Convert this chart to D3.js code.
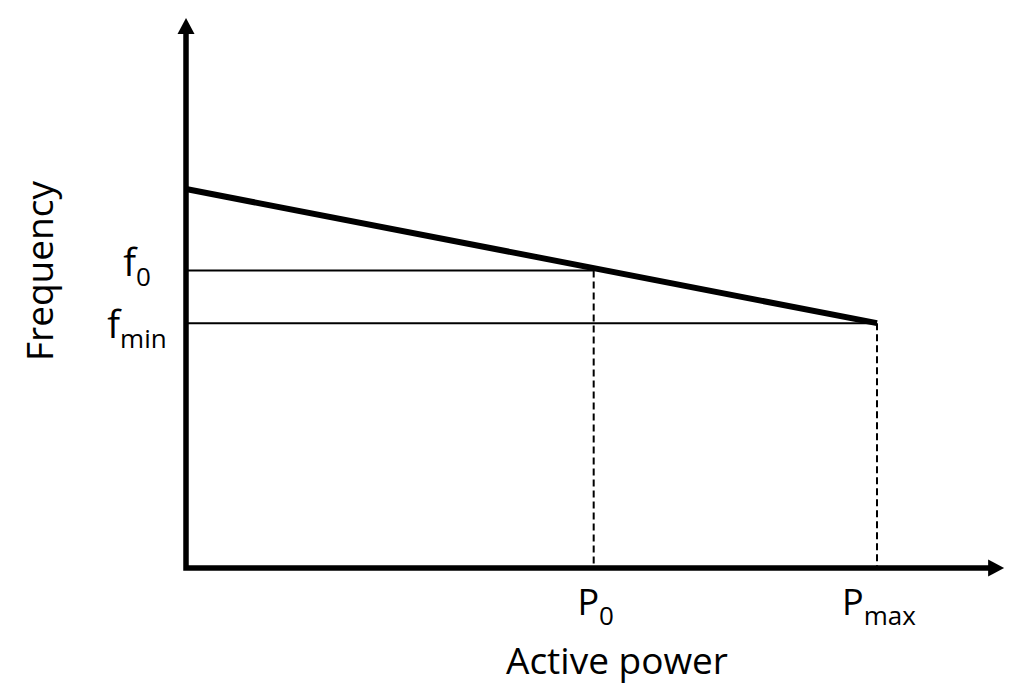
<!DOCTYPE html>
<html>
<head>
<meta charset="utf-8">
<script src="https://cdn.jsdelivr.net/npm/d3@7"></script>
<style>
  html, body { margin: 0; padding: 0; background: #fff; }
  svg { display: block; }
  text { font-family: "Open Sans", "Noto Sans", sans-serif; fill: #000; }
</style>
</head>
<body>
<svg id="chart" width="1024" height="696"></svg>
<script>
// ---- data (normalised units) ----
const droopP = [0, 1];            // active power: no-load, Pmax
const droopF = [1, 0.646];        // frequency at no-load, at Pmax (fmin)
const refPower = [0.59, 1];       // P0, Pmax
const refFreq = [0.785, 0.646];   // f0, fmin
const xTickMain = ["P", "P"];
const xTickSub = ["0", "max"];
const yTickMain = ["f", "f"];
const yTickSub = ["0", "min"];
const xAxisMax = 1.184;
const yAxisMax = 1.451;
const xTitle = "Active power";
const yTitle = "Frequency";

const svg = d3.select("#chart");
const x = d3.scaleLinear().domain([0, 1]).range([186, 877]);
const y = d3.scaleLinear().domain([0, 1]).range([568, 189]);

const arrowLen = 16, arrowHalf = 8.5;

// reference lines (horizontal thin solid)
refFreq.forEach((f, i) => {
  svg.append("line")
    .attr("x1", x(0)).attr("x2", x(refPower[i]))
    .attr("y1", y(f)).attr("y2", y(f))
    .attr("stroke", "#000").attr("stroke-width", 2);
});
// vertical dashed lines
refPower.forEach((p, i) => {
  svg.append("line")
    .attr("x1", x(p)).attr("x2", x(p))
    .attr("y1", y(refFreq[i])).attr("y2", y(0))
    .attr("stroke", "#000").attr("stroke-width", 2)
    .attr("stroke-dasharray", "7,4");
});

// droop line
svg.append("path")
  .datum(droopP.map((p, i) => [p, droopF[i]]))
  .attr("d", d3.line().x(d => x(d[0])).y(d => y(d[1])))
  .attr("fill", "none").attr("stroke", "#000").attr("stroke-width", 6)
  .attr("stroke-linecap", "butt");

// axes
const ox = x(0), oy = y(0);
const xEnd = x(xAxisMax), yEnd = y(yAxisMax);
svg.append("path")
  .attr("d", `M${ox},${yEnd + arrowLen} L${ox},${oy} L${xEnd - arrowLen},${oy}`)
  .attr("fill", "none").attr("stroke", "#000").attr("stroke-width", 5.5)
  .attr("stroke-linejoin", "miter").attr("stroke-linecap", "square");
svg.append("path")
  .attr("d", `M${ox},${yEnd} L${ox - arrowHalf},${yEnd + arrowLen} L${ox + arrowHalf},${yEnd + arrowLen} Z`)
  .attr("fill", "#000");
svg.append("path")
  .attr("d", `M${xEnd},${oy} L${xEnd - arrowLen},${oy - arrowHalf} L${xEnd - arrowLen},${oy + arrowHalf} Z`)
  .attr("fill", "#000");

// x tick labels
refPower.forEach((p, i) => {
  const t = svg.append("text")
    .attr("x", x(p) + 2).attr("y", oy + 47)
    .attr("text-anchor", "middle")
    .attr("font-size", 36);
  t.append("tspan").text(xTickMain[i]);
  t.append("tspan").attr("dy", 10).attr("font-size", 26).text(xTickSub[i]);
});

// y tick labels
const yLabelBase = [y(refFreq[0]) + 6, y(refFreq[1]) + 15];
refFreq.forEach((f, i) => {
  const t = svg.append("text")
    .attr("x", 137).attr("y", yLabelBase[i])
    .attr("text-anchor", "middle")
    .attr("font-size", 38);
  t.append("tspan").text(yTickMain[i]);
  t.append("tspan").attr("dy", 10).attr("font-size", 26).text(yTickSub[i]);
});

// axis titles
svg.append("text")
  .attr("x", 617).attr("y", 674)
  .attr("text-anchor", "middle")
  .attr("font-size", 37)
  .text(xTitle);
svg.append("text")
  .attr("transform", "translate(53,271) rotate(-90)")
  .attr("text-anchor", "middle")
  .attr("font-size", 37)
  .text(yTitle);
</script>
</body>
</html>
